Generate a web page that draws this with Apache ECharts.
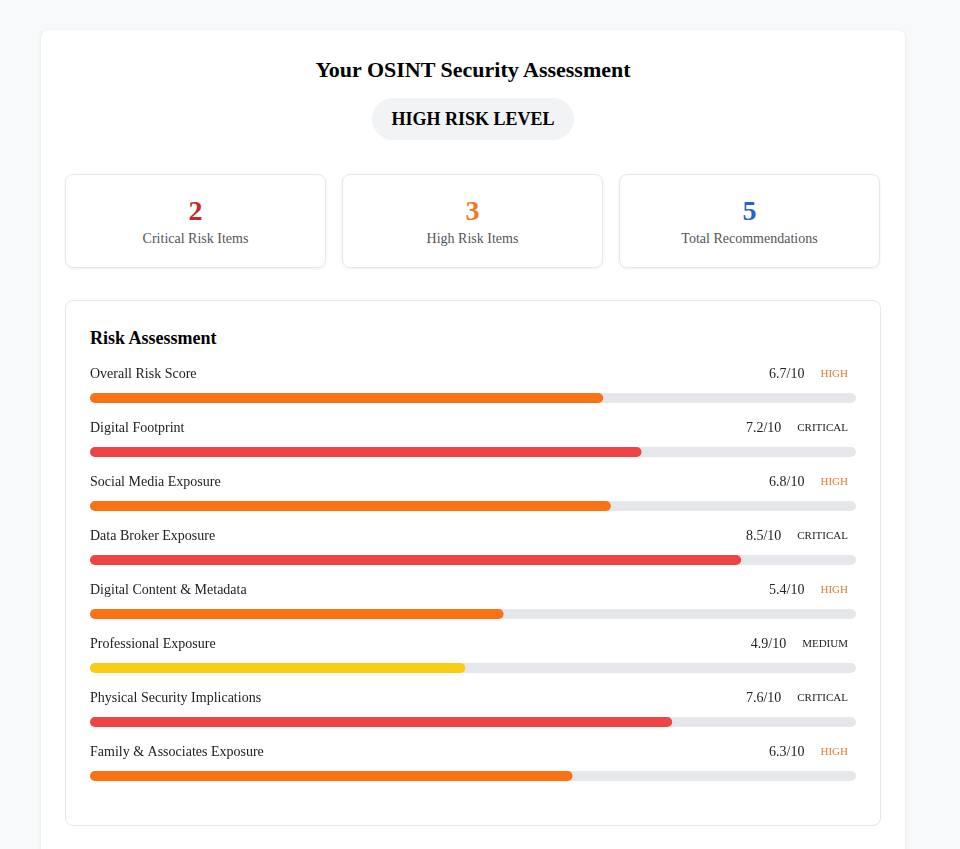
<!DOCTYPE html>
<html><head><meta charset="utf-8">
<script src="https://cdn.jsdelivr.net/npm/echarts@6/dist/echarts.min.js"></script>
<style>
body{margin:0;background:#f8f9fb;font-family:"Liberation Serif",serif;}
.wrap{position:absolute;left:41px;top:30px;width:864px;height:830px;background:#fff;border-radius:8px;box-shadow:0 1px 4px rgba(0,0,0,.08);}
h1{position:absolute;top:27px;width:100%;text-align:center;margin:0;font-size:22px;}
.badge{position:absolute;left:331px;top:68px;width:202px;height:42px;line-height:42px;text-align:center;background:#f1f3f5;border-radius:21px;font-weight:bold;font-size:18px;}
.card{position:absolute;top:144px;width:259px;height:92px;border:1px solid #e5e7eb;border-radius:8px;box-shadow:0 1px 3px rgba(0,0,0,.06);text-align:center;}
.card b{display:block;margin-top:20px;font-size:28px;}
.card span{display:block;margin-top:4px;font-size:14px;color:#555;}
.panel{position:absolute;left:24px;top:270px;width:814px;height:524px;border:1px solid #e5e7eb;border-radius:8px;}
.panel h2{position:absolute;left:24px;top:27px;margin:0;font-size:18px;}
#chart{position:absolute;left:24px;top:60px;width:766px;height:442px;}
</style></head><body>
<div class="wrap">
<h1>Your OSINT Security Assessment</h1>
<div class="badge">HIGH RISK LEVEL</div>
<div class="card" style="left:24px"><b style="color:#c62828">2</b><span>Critical Risk Items</span></div>
<div class="card" style="left:301px"><b style="color:#ee7b22">3</b><span>High Risk Items</span></div>
<div class="card" style="left:578px"><b style="color:#2962c8">5</b><span>Total Recommendations</span></div>
<div class="panel"><h2>Risk Assessment</h2><div id="chart"></div></div>
</div>
<script>
const categories = ['Overall Risk Score','Digital Footprint','Social Media Exposure','Data Broker Exposure','Digital Content & Metadata','Professional Exposure','Physical Security Implications','Family & Associates Exposure'];
const scores = [6.7, 7.2, 6.8, 8.5, 5.4, 4.9, 7.6, 6.3];
const levels = ['HIGH','CRITICAL','HIGH','CRITICAL','HIGH','MEDIUM','CRITICAL','HIGH'];
const levelColors = {HIGH:'#f97316', CRITICAL:'#ef4444', MEDIUM:'#facc15'};
const maxScore = 10;

const chart = echarts.init(document.getElementById('chart'));
const fam = '"Liberation Serif", serif';
chart.setOption({
  animation: false,
  grid: {left: 0, right: 0, top: 10, bottom: 0},
  xAxis: {type: 'value', min: 0, max: maxScore, show: false},
  yAxis: {type: 'category', data: categories, inverse: true, show: false},
  series: [
    {type: 'bar', data: categories.map(() => maxScore), barWidth: 10, barGap: '-100%',
     itemStyle: {color: '#e5e7eb', borderRadius: 5}, silent: true,
     label: {show: true, position: [0, -19], verticalAlign: 'middle', formatter: p => p.name,
             fontFamily: fam, fontSize: 14, color: '#222'}},
    {type: 'bar', data: scores.map((v, i) => ({value: v, itemStyle: {color: levelColors[levels[i]]}})),
     barWidth: 10, barGap: '-100%', itemStyle: {borderRadius: 5}},
    {type: 'bar', data: categories.map(() => maxScore), barWidth: 10, barGap: '-100%',
     itemStyle: {color: 'transparent'}, silent: true,
     label: {show: true, position: ['100%', -19], align: 'right', verticalAlign: 'middle',
             formatter: p => '{s|' + scores[p.dataIndex] + '/10}{' + (levels[p.dataIndex] === 'HIGH' ? 'h' : 'l') + '|' + levels[p.dataIndex] + '}',
             rich: {
               s: {fontFamily: fam, fontSize: 14, color: '#222', padding: [0, 0, 0, 0]},
               h: {fontFamily: fam, fontSize: 11, color: '#e07b30', padding: [0, 8, 0, 16]},
               l: {fontFamily: fam, fontSize: 11, color: '#222', padding: [0, 8, 0, 16]}
             }}}
  ]
});
</script>
</body></html>
